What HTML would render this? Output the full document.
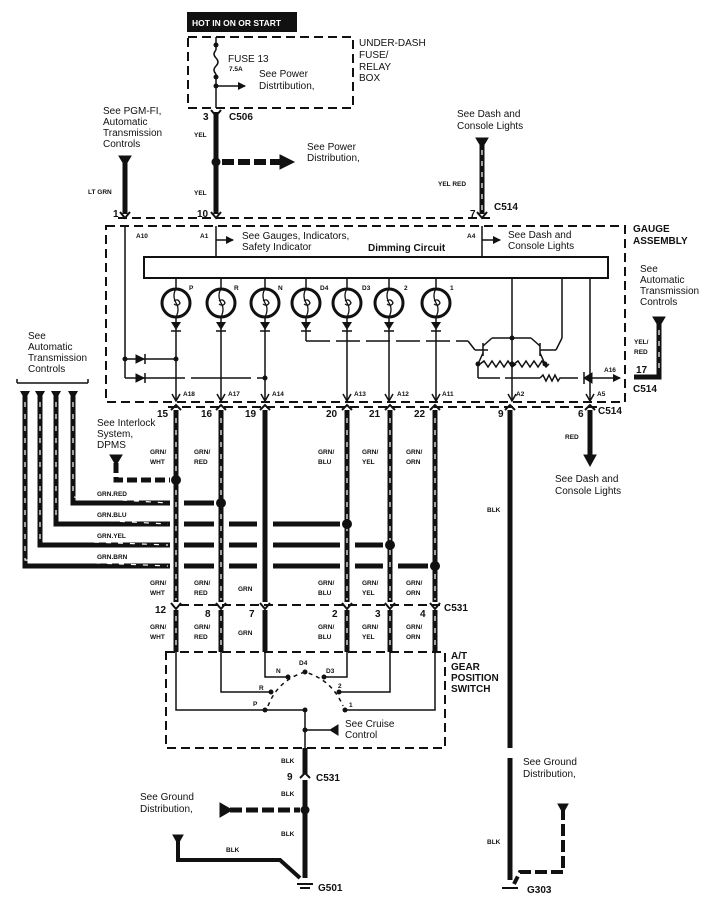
<!DOCTYPE html>
<html><head><meta charset="utf-8"><style>
body{margin:0;background:#fff;}
svg{display:block;}
text{font-family:"Liberation Sans",Arial,sans-serif;fill:#111;}
.s{font-size:10px;}
.t{font-size:6.5px;font-weight:bold;}
.b{font-size:10px;font-weight:bold;}
</style></head><body>
<svg width="725" height="900" viewBox="0 0 725 900" xmlns="http://www.w3.org/2000/svg">
<defs>
<marker id="ah" markerWidth="8" markerHeight="8" refX="7" refY="4" orient="auto" markerUnits="userSpaceOnUse"><path d="M0,0 L8,4 L0,8 z" fill="#111"/></marker>
</defs>
<g stroke="#111" fill="none">
<!-- top label -->
<rect x="187" y="12" width="110" height="20" fill="#111" stroke="none"/>
<!-- fuse box -->
<rect x="188" y="37" width="165" height="71" stroke-width="2" stroke-dasharray="9,5"/>
<line x1="216" y1="37" x2="216" y2="50" stroke-width="1.5"/>
<path d="M216,50 q-4,4 0,8 q4,4 0,8 q-4,4 0,8" stroke-width="1.5"/>
<line x1="216" y1="74" x2="216" y2="108" stroke-width="1.5"/>
<circle cx="216" cy="45" r="2" fill="#111"/><circle cx="216" cy="77" r="2" fill="#111"/><circle cx="216" cy="86" r="2" fill="#111"/>
<line x1="216" y1="86" x2="245" y2="86" stroke-width="1.5" marker-end="url(#ah)"/>
<!-- wire 10 -->
<line x1="216" y1="112" x2="216" y2="214" stroke-width="5"/>
<circle cx="216" cy="162" r="4" fill="#111"/>
<line x1="222" y1="162" x2="280" y2="162" stroke-width="6" stroke-dasharray="12,4"/>
<path d="M280,155 L294,162 L280,169 z" fill="#111"/>
<!-- wire 1 -->
<path d="M119,156 L131,156 L125,166 z" fill="#111"/>
<line x1="125" y1="160" x2="125" y2="214" stroke-width="5"/>
<!-- wire 7 -->
<path d="M476,138 L488,138 L482,148 z" fill="#111"/>
<line x1="482" y1="142" x2="482" y2="214" stroke-width="5"/>
<line x1="482" y1="150" x2="482" y2="212" stroke="#fff" stroke-width="1.2" stroke-dasharray="5,6"/>
<!-- connector row top -->
<line x1="118" y1="218" x2="490" y2="218" stroke-width="2" stroke-dasharray="9,5"/>
<!-- gauge box -->
<rect x="106" y="226" width="519" height="176" stroke-width="2" stroke-dasharray="9,5"/>
<!-- dimming bar -->
<rect x="144" y="257" width="464" height="21" stroke-width="2"/>
<line x1="216" y1="226" x2="216" y2="257" stroke-width="1.5"/>
<line x1="216" y1="240" x2="233" y2="240" stroke-width="1.5" marker-end="url(#ah)"/>
<line x1="482" y1="226" x2="482" y2="257" stroke-width="1.5"/>
<line x1="482" y1="240" x2="500" y2="240" stroke-width="1.5" marker-end="url(#ah)"/>
<!-- bulbs and wires -->
<g stroke-width="1.5">
<line x1="176" y1="278" x2="176" y2="400"/>
<line x1="221" y1="278" x2="221" y2="400"/>
<line x1="265" y1="278" x2="265" y2="400"/>
<line x1="306" y1="278" x2="306" y2="341"/>
<line x1="306" y1="341" x2="468" y2="341" stroke-dasharray="24,6"/>
<line x1="347" y1="278" x2="347" y2="400"/>
<line x1="389" y1="278" x2="389" y2="400"/>
<line x1="436" y1="278" x2="436" y2="400"/>
<line x1="512" y1="278" x2="512" y2="400"/>
<line x1="562" y1="278" x2="562" y2="338"/>
<line x1="590" y1="278" x2="590" y2="400"/>
<!-- wire 1 inside -->
<line x1="125" y1="226" x2="125" y2="378"/>
<line x1="125" y1="359" x2="176" y2="359"/>
<line x1="125" y1="378" x2="265" y2="378" stroke-dasharray="60,6"/>
</g>
<path d="M136,355 L136,363 L144,359 z" fill="#111"/><line x1="145" y1="354" x2="145" y2="364" stroke-width="1.5"/>
<path d="M136,374 L136,382 L144,378 z" fill="#111"/><line x1="145" y1="373" x2="145" y2="383" stroke-width="1.5"/>
<circle cx="125" cy="359" r="2" fill="#111"/><circle cx="176" cy="359" r="2" fill="#111"/><circle cx="265" cy="378" r="2" fill="#111"/>
<g stroke-width="3" fill="#fff">
<circle cx="176" cy="303" r="14"/><circle cx="221" cy="303" r="14"/><circle cx="265" cy="303" r="14"/>
<circle cx="306" cy="303" r="14"/><circle cx="347" cy="303" r="14"/><circle cx="389" cy="303" r="14"/><circle cx="436" cy="303" r="14"/>
</g>
<g stroke-width="1.3">
<path d="M176,289 q-4,6 0,14 q4,6 0,14 M174,301 q4,-3 6,2 q-2,4 -6,1"/>
<path d="M221,289 q-4,6 0,14 q4,6 0,14 M219,301 q4,-3 6,2 q-2,4 -6,1"/>
<path d="M265,289 q-4,6 0,14 q4,6 0,14 M263,301 q4,-3 6,2 q-2,4 -6,1"/>
<path d="M306,289 q-4,6 0,14 q4,6 0,14 M304,301 q4,-3 6,2 q-2,4 -6,1"/>
<path d="M347,289 q-4,6 0,14 q4,6 0,14 M345,301 q4,-3 6,2 q-2,4 -6,1"/>
<path d="M389,289 q-4,6 0,14 q4,6 0,14 M387,301 q4,-3 6,2 q-2,4 -6,1"/>
<path d="M436,289 q-4,6 0,14 q4,6 0,14 M434,301 q4,-3 6,2 q-2,4 -6,1"/>
</g>
<g fill="#111" stroke="none">
<path d="M171,322 L181,322 L176,330 z"/><path d="M216,322 L226,322 L221,330 z"/><path d="M260,322 L270,322 L265,330 z"/>
<path d="M301,322 L311,322 L306,330 z"/><path d="M342,322 L352,322 L347,330 z"/><path d="M384,322 L394,322 L389,330 z"/><path d="M431,322 L441,322 L436,330 z"/>
</g>
<g stroke-width="1.5">
<line x1="171" y1="331" x2="181" y2="331"/><line x1="216" y1="331" x2="226" y2="331"/><line x1="260" y1="331" x2="270" y2="331"/>
<line x1="301" y1="331" x2="311" y2="331"/><line x1="342" y1="331" x2="352" y2="331"/><line x1="384" y1="331" x2="394" y2="331"/><line x1="431" y1="331" x2="441" y2="331"/>
<!-- transistors -->
<line x1="468" y1="341" x2="475" y2="350"/>
<line x1="475" y1="350" x2="488" y2="350"/>
<line x1="483" y1="343" x2="483" y2="356"/>
<line x1="483" y1="346" x2="492" y2="338"/>
<line x1="492" y1="338" x2="531" y2="338"/>
<line x1="483" y1="353" x2="478" y2="364"/>
<line x1="531" y1="338" x2="540" y2="346"/>
<line x1="540" y1="343" x2="540" y2="356"/>
<line x1="540" y1="350" x2="556" y2="350"/>
<line x1="556" y1="350" x2="562" y2="338"/>
<line x1="540" y1="353" x2="545" y2="364"/>
<line x1="478" y1="364" x2="478" y2="378"/>
<path d="M480,364 l4,-3 4,6 4,-6 4,6 4,-6 4,6 4,-6 4,6 4,-3 M514,364 l4,-3 4,6 4,-6 4,6 4,-6 4,6 4,-6 4,6 3,-3"/>
<line x1="478" y1="378" x2="500" y2="378"/>
<line x1="505" y1="378" x2="540" y2="378"/>
<path d="M540,378 l3,-3 3,6 3,-6 3,6 3,-6 3,6 2,-3 L578,378"/>
<line x1="584" y1="372" x2="584" y2="384"/>
<line x1="584" y1="378" x2="620" y2="378" marker-end="url(#ah)"/>
</g>
<path d="M592,373 L592,383 L584,378 z" fill="#111"/>
<circle cx="512" cy="338" r="2" fill="#111"/><circle cx="478" cy="364" r="2" fill="#111"/><circle cx="512" cy="364" r="2" fill="#111"/><circle cx="545" cy="364" r="2" fill="#111"/>
<!-- right YEL/RED -->
<path d="M653,317 L665,317 L659,327 z" fill="#111"/>
<path d="M659,321 L659,377 L634,377" stroke-width="5"/>
<line x1="659" y1="330" x2="659" y2="372" stroke="#fff" stroke-width="1.2" stroke-dasharray="5,6"/>
<!-- inner arrows to bottom pins -->
<g stroke-width="1.5">
<path d="M172,394 L176,401 L180,394"/><path d="M217,394 L221,401 L225,394"/><path d="M261,394 L265,401 L269,394"/>
<path d="M343,394 L347,401 L351,394"/><path d="M385,394 L389,401 L393,394"/><path d="M432,394 L436,401 L440,394"/>
<path d="M508,394 L512,401 L516,394"/><path d="M586,394 L590,401 L594,394"/>
</g>
<!-- bottom connector row -->
<line x1="168" y1="407" x2="600" y2="407" stroke-width="2" stroke-dasharray="9,5"/>
<!-- harness wires -->
<g stroke-width="5">
<line x1="176" y1="410" x2="176" y2="602"/>
<line x1="221" y1="410" x2="221" y2="602"/>
<line x1="265" y1="410" x2="265" y2="602"/>
<line x1="347" y1="410" x2="347" y2="602"/>
<line x1="390" y1="410" x2="390" y2="602"/>
<line x1="435" y1="410" x2="435" y2="602"/>
<line x1="176" y1="610" x2="176" y2="652"/>
<line x1="221" y1="610" x2="221" y2="652"/>
<line x1="265" y1="610" x2="265" y2="652"/>
<line x1="347" y1="610" x2="347" y2="652"/>
<line x1="390" y1="610" x2="390" y2="652"/>
<line x1="435" y1="610" x2="435" y2="652"/>
<line x1="510" y1="410" x2="510" y2="748"/>
<line x1="510" y1="758" x2="510" y2="880"/>
<line x1="590" y1="410" x2="590" y2="455"/>
</g>
<path d="M584,455 L596,455 L590,466 z" fill="#111"/>
<g stroke="#fff" stroke-width="1.2" stroke-dasharray="5,7">
<line x1="176" y1="418" x2="176" y2="600"/><line x1="221" y1="418" x2="221" y2="600"/>
<line x1="347" y1="418" x2="347" y2="600"/><line x1="390" y1="418" x2="390" y2="600"/><line x1="435" y1="418" x2="435" y2="600"/>
<line x1="176" y1="616" x2="176" y2="650"/><line x1="221" y1="616" x2="221" y2="650"/>
<line x1="347" y1="616" x2="347" y2="650"/><line x1="390" y1="616" x2="390" y2="650"/><line x1="435" y1="616" x2="435" y2="650"/>
</g>
<!-- connector Y marks -->
<g stroke-width="2">
<path d="M120,212 L125,218 L130,212 M211,212 L216,218 L221,212 M477,212 L482,218 L487,212"/>
<path d="M211,110 L216,116 L221,110"/>
</g>
<!-- left bundle -->
<line x1="17" y1="383" x2="88" y2="383" stroke-width="1.5"/>
<line x1="17" y1="383" x2="17" y2="379" stroke-width="1.5"/><line x1="88" y1="383" x2="88" y2="379" stroke-width="1.5"/>
<g fill="#111" stroke="none">
<path d="M20,391 L30,391 L25,400 z"/><path d="M35,391 L45,391 L40,400 z"/><path d="M51,391 L61,391 L56,400 z"/><path d="M68,391 L78,391 L73,400 z"/>
</g>
<g stroke-width="5">
<path d="M25,396 L25,566 L170,566"/><path d="M40,396 L40,545 L170,545"/><path d="M56,396 L56,524 L170,524"/><path d="M73,396 L73,503 L170,503"/>
<line x1="184" y1="503" x2="214" y2="503"/>
<line x1="184" y1="524" x2="214" y2="524"/><line x1="229" y1="524" x2="257" y2="524"/><line x1="273" y1="524" x2="340" y2="524"/>
<line x1="184" y1="545" x2="214" y2="545"/><line x1="229" y1="545" x2="257" y2="545"/><line x1="273" y1="545" x2="340" y2="545"/><line x1="355" y1="545" x2="383" y2="545"/>
<line x1="184" y1="566" x2="214" y2="566"/><line x1="229" y1="566" x2="257" y2="566"/><line x1="273" y1="566" x2="340" y2="566"/><line x1="355" y1="566" x2="383" y2="566"/><line x1="398" y1="566" x2="428" y2="566"/>
<path d="M116,463 L116,480 L170,480" stroke-dasharray="10,4"/>
</g>
<g stroke="#fff" stroke-width="1.2" stroke-dasharray="5,7">
<path d="M25,402 L25,560 L168,566"/><path d="M40,402 L40,540 L168,545"/><path d="M56,402 L56,518 L168,524"/><path d="M73,402 L73,497 L168,503"/>
</g>
<path d="M110,455 L122,455 L116,465 z" fill="#111"/>
<g fill="#111" stroke="none">
<circle cx="176" cy="480" r="5"/><circle cx="221" cy="503" r="5"/><circle cx="347" cy="524" r="5"/><circle cx="390" cy="545" r="5"/><circle cx="435" cy="566" r="5"/>
</g>
<!-- C531 row -->
<line x1="180" y1="605" x2="440" y2="605" stroke-width="2" stroke-dasharray="9,5"/>
<!-- gear switch box -->
<rect x="166" y="652" width="279" height="96" stroke-width="2" stroke-dasharray="9,5"/>
<g stroke-width="1.5">
<path d="M176,652 L176,710 L265,710"/>
<path d="M221,652 L221,692 L271,692"/>
<path d="M265,652 L265,677 L288,677"/>
<path d="M347,652 L347,677 L324,677"/>
<path d="M390,652 L390,692 L339,692"/>
<path d="M435,652 L435,710 L345,710"/>
<path d="M265,710 L305,710 L305,748"/>
<path d="M268,706 Q278,680 305,672 Q332,680 343,706" stroke-dasharray="4,4"/>
<line x1="305" y1="730" x2="330" y2="730"/>
</g>
<path d="M338,725 L338,735 L330,730 z" fill="#111"/>
<g fill="#111" stroke="none">
<circle cx="265" cy="710" r="2.5"/><circle cx="271" cy="692" r="2.5"/><circle cx="288" cy="677" r="2.5"/><circle cx="305" cy="672" r="2.5"/>
<circle cx="324" cy="677" r="2.5"/><circle cx="339" cy="692" r="2.5"/><circle cx="345" cy="710" r="2.5"/><circle cx="305" cy="710" r="2.5"/><circle cx="305" cy="730" r="2.5"/>
</g>
<!-- BLK wire -->
<line x1="305" y1="748" x2="305" y2="774" stroke-width="5"/>
<line x1="305" y1="780" x2="305" y2="878" stroke-width="5"/>
<path d="M300,778 L305,773 L310,778" stroke-width="2"/>
<circle cx="305" cy="810" r="4" fill="#111"/>
<line x1="230" y1="810" x2="300" y2="810" stroke-width="5" stroke-dasharray="12,4"/>
<path d="M220,803 L232,810 L220,817 z" fill="#111"/>
<path d="M173,835 L183,835 L178,844 z" fill="#111"/>
<path d="M178,840 L178,860 L280,860 L300,878" stroke-width="4"/>
<!-- G303 -->
<path d="M558,804 L568,804 L563,813 z" fill="#111"/>
<path d="M563,808 L563,872 L520,872 L514,884" stroke-width="4" stroke-dasharray="12,4"/>
<!-- ground symbols -->
<line x1="297" y1="884" x2="313" y2="884" stroke-width="2"/><line x1="300" y1="888" x2="310" y2="888" stroke-width="2"/>
<line x1="502" y1="888" x2="518" y2="888" stroke-width="2"/>
<!-- bottom pin Y marks -->
<g stroke-width="2">
<path d="M171,410 L176,405 L181,410 M216,410 L221,405 L226,410 M260,410 L265,405 L270,410 M342,410 L347,405 L352,410 M385,410 L390,405 L395,410 M430,410 L435,405 L440,410 M505,410 L510,405 L515,410 M585,410 L590,405 L595,410"/>
<path d="M171,603 L176,609 L181,603 M216,603 L221,609 L226,603 M260,603 L265,609 L270,603 M342,603 L347,609 L352,603 M385,603 L390,609 L395,603 M430,603 L435,609 L440,603"/>
</g>
</g>
<!-- TEXT -->
<text x="192" y="26" style="font-size:8.5px;font-weight:bold;fill:#fff">HOT IN ON OR START</text>
<text class="s" x="359" y="46">UNDER-DASH</text>
<text class="s" x="359" y="58">FUSE/</text>
<text class="s" x="359" y="70">RELAY</text>
<text class="s" x="359" y="81">BOX</text>
<text class="s" x="228" y="62">FUSE 13</text>
<text class="t" x="229" y="71">7.5A</text>
<text class="s" x="259" y="77">See Power</text>
<text class="s" x="259" y="89">Distrtibution,</text>
<text class="s" x="203" y="120" style="font-weight:bold">3</text>
<text class="s" x="229" y="120" style="font-weight:bold">C506</text>
<text class="t" x="194" y="137">YEL</text>
<text class="t" x="194" y="195">YEL</text>
<text class="s" x="307" y="150">See Power</text>
<text class="s" x="307" y="161">Distribution,</text>
<text class="s" x="103" y="114">See PGM-FI,</text>
<text class="s" x="103" y="125">Automatic</text>
<text class="s" x="103" y="136">Transmission</text>
<text class="s" x="103" y="147">Controls</text>
<text class="t" x="88" y="194">LT GRN</text>
<text class="s" x="457" y="117">See Dash and</text>
<text class="s" x="457" y="129">Console Lights</text>
<text class="t" x="438" y="186">YEL RED</text>
<text class="s" x="494" y="210" style="font-weight:bold">C514</text>
<text class="s" x="113" y="217" style="font-weight:bold">1</text>
<text class="s" x="197" y="217" style="font-weight:bold">10</text>
<text class="s" x="470" y="217" style="font-weight:bold">7</text>
<text class="b" x="633" y="232">GAUGE</text>
<text class="b" x="633" y="244">ASSEMBLY</text>
<text class="t" x="136" y="238">A10</text>
<text class="t" x="200" y="238">A1</text>
<text class="t" x="467" y="238">A4</text>
<text class="s" x="242" y="239">See Gauges, Indicators,</text>
<text class="s" x="242" y="250">Safety Indicator</text>
<text class="s" x="368" y="251" style="font-weight:bold">Dimming Circuit</text>
<text class="s" x="508" y="238">See Dash and</text>
<text class="s" x="508" y="249">Console Lights</text>
<text class="t" x="189" y="290">P</text><text class="t" x="234" y="290">R</text><text class="t" x="278" y="290">N</text>
<text class="t" x="320" y="290">D4</text><text class="t" x="362" y="290">D3</text><text class="t" x="404" y="290">2</text><text class="t" x="450" y="290">1</text>
<text class="s" x="640" y="272">See</text>
<text class="s" x="640" y="283">Automatic</text>
<text class="s" x="640" y="294">Transmission</text>
<text class="s" x="640" y="305">Controls</text>
<text class="t" x="634" y="344">YEL/</text>
<text class="t" x="634" y="354">RED</text>
<text class="s" x="636" y="373" style="font-weight:bold">17</text>
<text class="s" x="633" y="392" style="font-weight:bold">C514</text>
<text class="t" x="604" y="372">A16</text>
<text class="t" x="183" y="396">A18</text><text class="t" x="228" y="396">A17</text><text class="t" x="272" y="396">A14</text>
<text class="t" x="354" y="396">A13</text><text class="t" x="397" y="396">A12</text><text class="t" x="442" y="396">A11</text>
<text class="t" x="516" y="396">A2</text><text class="t" x="597" y="396">A5</text>
<text class="s" x="28" y="339">See</text>
<text class="s" x="28" y="350">Automatic</text>
<text class="s" x="28" y="361">Transmission</text>
<text class="s" x="28" y="372">Controls</text>
<text class="s" x="157" y="417" style="font-weight:bold">15</text>
<text class="s" x="201" y="417" style="font-weight:bold">16</text>
<text class="s" x="245" y="417" style="font-weight:bold">19</text>
<text class="s" x="326" y="417" style="font-weight:bold">20</text>
<text class="s" x="369" y="417" style="font-weight:bold">21</text>
<text class="s" x="414" y="417" style="font-weight:bold">22</text>
<text class="s" x="498" y="417" style="font-weight:bold">9</text>
<text class="s" x="578" y="417" style="font-weight:bold">6</text>
<text class="s" x="598" y="414" style="font-weight:bold">C514</text>
<text class="s" x="97" y="426">See Interlock</text>
<text class="s" x="97" y="437">System,</text>
<text class="s" x="97" y="448">DPMS</text>
<text class="t" x="150" y="454">GRN/</text><text class="t" x="150" y="464">WHT</text>
<text class="t" x="194" y="454">GRN/</text><text class="t" x="194" y="464">RED</text>
<text class="t" x="318" y="454">GRN/</text><text class="t" x="318" y="464">BLU</text>
<text class="t" x="362" y="454">GRN/</text><text class="t" x="362" y="464">YEL</text>
<text class="t" x="406" y="454">GRN/</text><text class="t" x="406" y="464">ORN</text>
<text class="t" x="565" y="439">RED</text>
<text class="s" x="555" y="482">See Dash and</text>
<text class="s" x="555" y="494">Console Lights</text>
<text class="t" x="487" y="512">BLK</text>
<text class="t" x="97" y="496">GRN.RED</text>
<text class="t" x="97" y="517">GRN.BLU</text>
<text class="t" x="97" y="538">GRN.YEL</text>
<text class="t" x="97" y="559">GRN.BRN</text>
<text class="t" x="150" y="585">GRN/</text><text class="t" x="150" y="595">WHT</text>
<text class="t" x="194" y="585">GRN/</text><text class="t" x="194" y="595">RED</text>
<text class="t" x="238" y="591">GRN</text>
<text class="t" x="318" y="585">GRN/</text><text class="t" x="318" y="595">BLU</text>
<text class="t" x="362" y="585">GRN/</text><text class="t" x="362" y="595">YEL</text>
<text class="t" x="406" y="585">GRN/</text><text class="t" x="406" y="595">ORN</text>
<text class="s" x="444" y="611" style="font-weight:bold">C531</text>
<text class="s" x="155" y="613" style="font-weight:bold">12</text>
<text class="s" x="205" y="617" style="font-weight:bold">8</text>
<text class="s" x="249" y="617" style="font-weight:bold">7</text>
<text class="s" x="332" y="617" style="font-weight:bold">2</text>
<text class="s" x="375" y="617" style="font-weight:bold">3</text>
<text class="s" x="420" y="617" style="font-weight:bold">4</text>
<text class="t" x="150" y="629">GRN/</text><text class="t" x="150" y="639">WHT</text>
<text class="t" x="194" y="629">GRN/</text><text class="t" x="194" y="639">RED</text>
<text class="t" x="238" y="635">GRN</text>
<text class="t" x="318" y="629">GRN/</text><text class="t" x="318" y="639">BLU</text>
<text class="t" x="362" y="629">GRN/</text><text class="t" x="362" y="639">YEL</text>
<text class="t" x="406" y="629">GRN/</text><text class="t" x="406" y="639">ORN</text>
<text class="b" x="451" y="659">A/T</text>
<text class="b" x="451" y="670">GEAR</text>
<text class="b" x="451" y="681">POSITION</text>
<text class="b" x="451" y="692">SWITCH</text>
<text class="t" x="276" y="673">N</text><text class="t" x="299" y="665">D4</text><text class="t" x="326" y="673">D3</text>
<text class="t" x="259" y="690">R</text><text class="t" x="338" y="688">2</text>
<text class="t" x="253" y="706">P</text><text class="t" x="349" y="707">1</text>
<text class="s" x="345" y="727">See Cruise</text>
<text class="s" x="345" y="738">Control</text>
<text class="t" x="281" y="763">BLK</text>
<text class="s" x="287" y="780" style="font-weight:bold">9</text>
<text class="s" x="316" y="781" style="font-weight:bold">C531</text>
<text class="t" x="281" y="796">BLK</text>
<text class="s" x="140" y="800">See Ground</text>
<text class="s" x="140" y="812">Distribution,</text>
<text class="t" x="281" y="836">BLK</text>
<text class="t" x="226" y="852">BLK</text>
<text class="s" x="523" y="765">See Ground</text>
<text class="s" x="523" y="777">Distribution,</text>
<text class="t" x="487" y="844">BLK</text>
<text class="s" x="318" y="891" style="font-weight:bold">G501</text>
<text class="s" x="527" y="893" style="font-weight:bold">G303</text>
</svg>
</body></html>
